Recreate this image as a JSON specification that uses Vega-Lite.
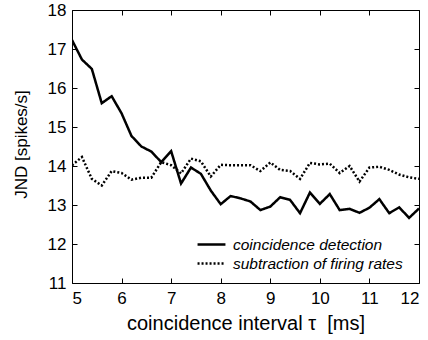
{
  "$schema": "https://vega.github.io/schema/vega-lite/v6.json",
  "width": 347,
  "height": 273,
  "autosize": {"type": "none"},
  "padding": {"left": 72, "top": 10, "right": 9, "bottom": 57},
  "background": "white",
  "config": {
    "view": {"stroke": null},
    "font": "Liberation Sans",
    "axis": {
      "grid": false,
      "domainColor": "black",
      "domainWidth": 1,
      "tickColor": "black",
      "tickWidth": 1,
      "tickSize": -5,
      "labelColor": "black",
      "labelFont": "Liberation Sans",
      "labelFontSize": 17,
      "titleColor": "black",
      "titleFont": "Liberation Sans",
      "titleFontSize": 18,
      "titleFontWeight": "normal"
    }
  },
  "datasets": {
    "cd": [
      {"t": 5.0, "jnd": 17.23, "series": "coincidence detection"},
      {"t": 5.2, "jnd": 16.73, "series": "coincidence detection"},
      {"t": 5.4, "jnd": 16.49, "series": "coincidence detection"},
      {"t": 5.6, "jnd": 15.61, "series": "coincidence detection"},
      {"t": 5.8, "jnd": 15.79, "series": "coincidence detection"},
      {"t": 6.0, "jnd": 15.35, "series": "coincidence detection"},
      {"t": 6.2, "jnd": 14.77, "series": "coincidence detection"},
      {"t": 6.4, "jnd": 14.5, "series": "coincidence detection"},
      {"t": 6.6, "jnd": 14.37, "series": "coincidence detection"},
      {"t": 6.8, "jnd": 14.1, "series": "coincidence detection"},
      {"t": 7.0, "jnd": 14.38, "series": "coincidence detection"},
      {"t": 7.2, "jnd": 13.55, "series": "coincidence detection"},
      {"t": 7.4, "jnd": 13.96, "series": "coincidence detection"},
      {"t": 7.6, "jnd": 13.8, "series": "coincidence detection"},
      {"t": 7.8, "jnd": 13.37, "series": "coincidence detection"},
      {"t": 8.0, "jnd": 13.02, "series": "coincidence detection"},
      {"t": 8.2, "jnd": 13.23, "series": "coincidence detection"},
      {"t": 8.4, "jnd": 13.17, "series": "coincidence detection"},
      {"t": 8.6, "jnd": 13.09, "series": "coincidence detection"},
      {"t": 8.8, "jnd": 12.87, "series": "coincidence detection"},
      {"t": 9.0, "jnd": 12.96, "series": "coincidence detection"},
      {"t": 9.2, "jnd": 13.2, "series": "coincidence detection"},
      {"t": 9.4, "jnd": 13.13, "series": "coincidence detection"},
      {"t": 9.6, "jnd": 12.79, "series": "coincidence detection"},
      {"t": 9.8, "jnd": 13.32, "series": "coincidence detection"},
      {"t": 10.0, "jnd": 13.03, "series": "coincidence detection"},
      {"t": 10.2, "jnd": 13.28, "series": "coincidence detection"},
      {"t": 10.4, "jnd": 12.87, "series": "coincidence detection"},
      {"t": 10.6, "jnd": 12.9, "series": "coincidence detection"},
      {"t": 10.8, "jnd": 12.8, "series": "coincidence detection"},
      {"t": 11.0, "jnd": 12.93, "series": "coincidence detection"},
      {"t": 11.2, "jnd": 13.15, "series": "coincidence detection"},
      {"t": 11.4, "jnd": 12.79, "series": "coincidence detection"},
      {"t": 11.6, "jnd": 12.94, "series": "coincidence detection"},
      {"t": 11.8, "jnd": 12.67, "series": "coincidence detection"},
      {"t": 12.0, "jnd": 12.91, "series": "coincidence detection"}
    ],
    "sf": [
      {"t": 5.0, "jnd": 14.02, "series": "subtraction of firing rates"},
      {"t": 5.2, "jnd": 14.23, "series": "subtraction of firing rates"},
      {"t": 5.4, "jnd": 13.67, "series": "subtraction of firing rates"},
      {"t": 5.6, "jnd": 13.5, "series": "subtraction of firing rates"},
      {"t": 5.8, "jnd": 13.87, "series": "subtraction of firing rates"},
      {"t": 6.0, "jnd": 13.82, "series": "subtraction of firing rates"},
      {"t": 6.2, "jnd": 13.65, "series": "subtraction of firing rates"},
      {"t": 6.4, "jnd": 13.7, "series": "subtraction of firing rates"},
      {"t": 6.6, "jnd": 13.7, "series": "subtraction of firing rates"},
      {"t": 6.8, "jnd": 14.1, "series": "subtraction of firing rates"},
      {"t": 7.0, "jnd": 14.02, "series": "subtraction of firing rates"},
      {"t": 7.2, "jnd": 13.81, "series": "subtraction of firing rates"},
      {"t": 7.4, "jnd": 14.19, "series": "subtraction of firing rates"},
      {"t": 7.6, "jnd": 14.12, "series": "subtraction of firing rates"},
      {"t": 7.8, "jnd": 13.73, "series": "subtraction of firing rates"},
      {"t": 8.0, "jnd": 14.03, "series": "subtraction of firing rates"},
      {"t": 8.2, "jnd": 14.02, "series": "subtraction of firing rates"},
      {"t": 8.4, "jnd": 14.02, "series": "subtraction of firing rates"},
      {"t": 8.6, "jnd": 14.02, "series": "subtraction of firing rates"},
      {"t": 8.8, "jnd": 13.87, "series": "subtraction of firing rates"},
      {"t": 9.0, "jnd": 14.09, "series": "subtraction of firing rates"},
      {"t": 9.2, "jnd": 13.9, "series": "subtraction of firing rates"},
      {"t": 9.4, "jnd": 13.87, "series": "subtraction of firing rates"},
      {"t": 9.6, "jnd": 13.67, "series": "subtraction of firing rates"},
      {"t": 9.8, "jnd": 14.08, "series": "subtraction of firing rates"},
      {"t": 10.0, "jnd": 14.04, "series": "subtraction of firing rates"},
      {"t": 10.2, "jnd": 14.06, "series": "subtraction of firing rates"},
      {"t": 10.4, "jnd": 13.82, "series": "subtraction of firing rates"},
      {"t": 10.6, "jnd": 14.0, "series": "subtraction of firing rates"},
      {"t": 10.8, "jnd": 13.6, "series": "subtraction of firing rates"},
      {"t": 11.0, "jnd": 13.96, "series": "subtraction of firing rates"},
      {"t": 11.2, "jnd": 13.98, "series": "subtraction of firing rates"},
      {"t": 11.4, "jnd": 13.9, "series": "subtraction of firing rates"},
      {"t": 11.6, "jnd": 13.78, "series": "subtraction of firing rates"},
      {"t": 11.8, "jnd": 13.71, "series": "subtraction of firing rates"},
      {"t": 12.0, "jnd": 13.67, "series": "subtraction of firing rates"}
    ]
  },
  "layer": [
    {
      "data": {"name": "cd"},
      "mark": {"type": "line", "color": "black", "strokeWidth": 2.5, "clip": true},
      "encoding": {
        "x": {
          "field": "t", "type": "quantitative",
          "scale": {"domain": [5, 12], "nice": false},
          "axis": {"orient": "bottom", "values": [5, 6, 7, 8, 9, 10, 11, 12], "title": "coincidence interval τ\u00a0\u00a0[ms]", "titleFontSize": 20, "labelPadding": 12, "titleY": 46, "titleBaseline": "alphabetic"}
        },
        "y": {
          "field": "jnd", "type": "quantitative",
          "scale": {"domain": [11, 18], "nice": false, "zero": false},
          "axis": {"orient": "left", "values": [11, 12, 13, 14, 15, 16, 17, 18], "title": "JND [spikes/s]", "titleFontSize": 17, "labelPadding": 11, "titleX": -46, "titleY": 134, "titleBaseline": "alphabetic"}
        },
        "strokeDash": {
          "field": "series", "type": "nominal",
          "scale": {"domain": ["coincidence detection", "subtraction of firing rates"], "range": [[1, 0], [2, 2]]},
          "legend": {
            "orient": "none", "legendX": 129, "legendY": 224, "title": null,
            "symbolType": "M-1.55,0H1.55", "symbolSize": 324, "symbolStrokeWidth": 2.5, "symbolStrokeColor": "black",
            "labelFontSize": 15.5, "labelFontStyle": "italic", "labelColor": "black", "labelFont": "Liberation Sans",
            "labelLimit": 0, "rowPadding": 0, "labelOffset": 11
          }
        }
      }
    },
    {
      "data": {"name": "sf"},
      "mark": {"type": "line", "color": "black", "strokeWidth": 2.5, "clip": true},
      "encoding": {
        "x": {
          "field": "t", "type": "quantitative",
          "axis": {"orient": "top", "values": [5, 6, 7, 8, 9, 10, 11, 12], "labels": false, "title": null}
        },
        "y": {
          "field": "jnd", "type": "quantitative",
          "axis": {"orient": "right", "values": [11, 12, 13, 14, 15, 16, 17, 18], "labels": false, "title": null}
        },
        "strokeDash": {"field": "series", "type": "nominal"}
      }
    }
  ],
  "resolve": {"axis": {"x": "independent", "y": "independent"}}
}
